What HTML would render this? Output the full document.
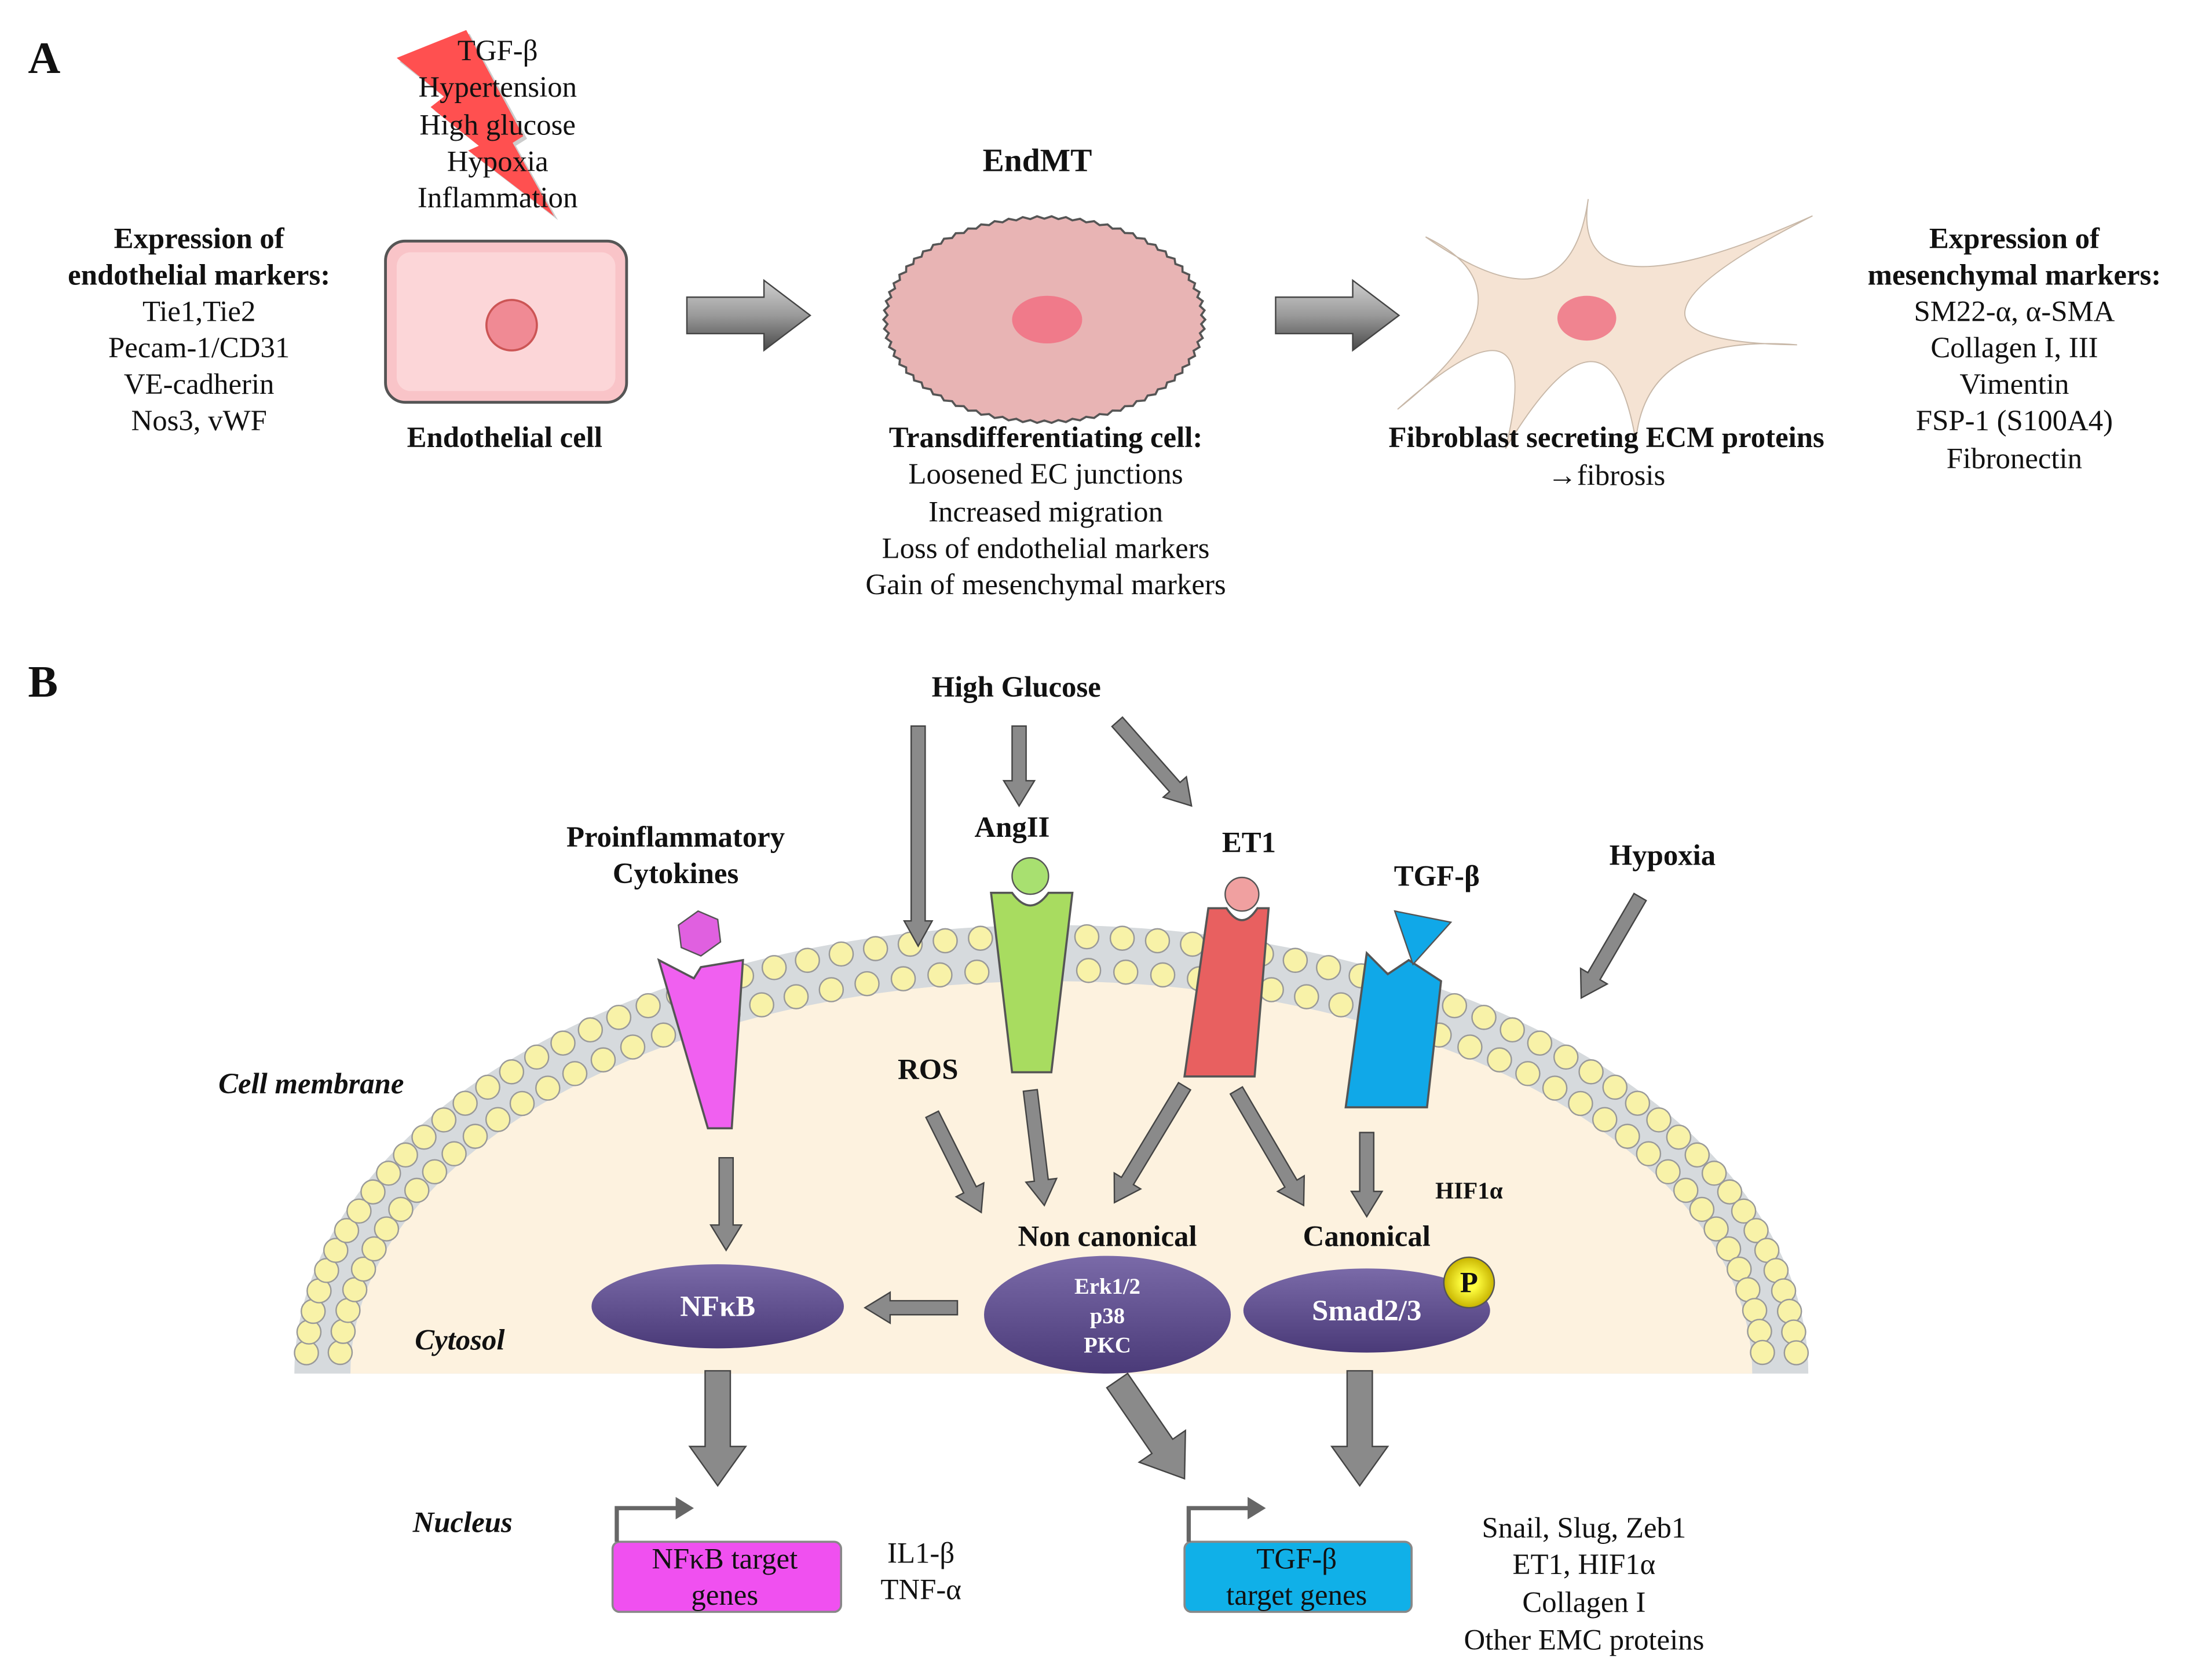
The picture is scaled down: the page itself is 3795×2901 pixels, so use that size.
<!DOCTYPE html>
<html><head><meta charset="utf-8"><style>
html,body{margin:0;padding:0;background:#fff}
svg{display:block}
text{font-family:"Liberation Serif",serif;fill:#111}
.b{font-weight:bold}
.t{font-size:21px;text-anchor:middle}
</style></head><body>
<svg id="s" width="3795" height="2901" viewBox="0 0 1568 1198.6" xmlns="http://www.w3.org/2000/svg">
<defs>
<linearGradient id="ga" x1="0" y1="0" x2="0" y2="1">
<stop offset="0" stop-color="#d0d0d0"/><stop offset="0.5" stop-color="#9a9a9a"/><stop offset="1" stop-color="#4a4a4a"/></linearGradient>
<linearGradient id="gp" x1="0" y1="0" x2="0" y2="1">
<stop offset="0" stop-color="#7a6aa8"/><stop offset="1" stop-color="#4a3a78"/></linearGradient>
<radialGradient id="gy"><stop offset="0.3" stop-color="#ffff40"/><stop offset="1" stop-color="#c8b400"/></radialGradient>
</defs>
<!-- Section A -->
<text x="20" y="52" class="b" style="font-size:32px">A</text>
<polygon points="335,24 376,99 368,104 398,157 337,110 344,106 310,79 319,71 285,44" fill="#aaa" opacity="0.6"/>
<polygon points="332.6,21.4 373.3,97.1 365.7,101.9 395.3,154.3 334,107.4 341.6,104 307.2,76.4 316.8,68.9 283,41.3" fill="#ff5050"/>
<text x="355" y="43" class="t">TGF-β</text><text x="355" y="69" class="t">Hypertension</text><text x="355" y="96" class="t">High glucose</text><text x="355" y="122" class="t">Hypoxia</text><text x="355" y="148" class="t">Inflammation</text>
<text x="142" y="177" class="t b">Expression of</text><text x="142" y="203" class="t b">endothelial markers:</text>
<text x="142" y="229" class="t">Tie1,Tie2</text><text x="142" y="255" class="t">Pecam-1/CD31</text><text x="142" y="281" class="t">VE-cadherin</text><text x="142" y="307" class="t">Nos3, vWF</text>
<rect x="275" y="172" width="172" height="115" rx="14" fill="#f9c4c8" stroke="#555" stroke-width="2"/>
<rect x="283" y="180" width="156" height="99" rx="10" fill="#fcd6d8"/>
<circle cx="365" cy="232" r="18" fill="#f08a94" stroke="#c55" stroke-width="1.5"/>
<text x="360" y="319" class="t b">Endothelial cell</text>
<g transform="translate(490,225)"><polygon points="0,-13 55,-13 55,-25 88,0 55,25 55,13 0,13" fill="url(#ga)" stroke="#444"/></g>
<text x="740" y="122" class="t b" style="font-size:23px">EndMT</text>
<path id="spiky" fill="#e8b4b4" stroke="#555" stroke-width="1.5"/>
<ellipse cx="747" cy="228" rx="25" ry="17" fill="#f07a8a"/>
<text x="746" y="319" class="t b">Transdifferentiating cell:</text>
<text x="746" y="345" class="t">Loosened EC junctions</text><text x="746" y="372" class="t">Increased migration</text><text x="746" y="398" class="t">Loss of endothelial markers</text><text x="746" y="424" class="t">Gain of mesenchymal markers</text>
<g transform="translate(910,225)"><polygon points="0,-13 55,-13 55,-25 88,0 55,25 55,13 0,13" fill="url(#ga)" stroke="#444"/></g>
<path id="fib" fill="#f5e3d3" stroke="#c8b8a8" stroke-width="0.8"/>
<ellipse cx="1132" cy="227" rx="21" ry="16" fill="#f08490"/>
<text x="1146" y="319" class="t b">Fibroblast secreting ECM proteins</text><text x="1146" y="346" class="t">→fibrosis</text>
<text x="1437" y="177" class="t b">Expression of</text><text x="1437" y="203" class="t b">mesenchymal markers:</text>
<text x="1437" y="229" class="t">SM22-α, α-SMA</text><text x="1437" y="255" class="t">Collagen I, III</text><text x="1437" y="281" class="t">Vimentin</text><text x="1437" y="307" class="t">FSP-1 (S100A4)</text><text x="1437" y="334" class="t">Fibronectin</text>
<!-- Section B -->
<text x="20" y="497" class="b" style="font-size:32px">B</text>
<text x="725" y="497" class="t b">High Glucose</text>
<path d="M210,980 A540,320 0 0 1 1290,980 Z" fill="#d6dadd"/>
<path d="M250,980 A500,280 0 0 1 1250,980 Z" fill="#fdf2df"/>
<g id="beads"></g>
<g id="arrows"></g>
<!-- receptors -->
<path d="M470,685 L495,698 L500,690 L530,685 L522,805 L505,805 Z" fill="#f060f0" stroke="#555" stroke-width="1.5"/>
<polygon points="498,650 512,656 514,672 500,682 486,676 484,660" fill="#e060e0" stroke="#555"/>
<path d="M707,637 L722,637 Q735,655 748,637 L765,637 L750,765 L722,765 Z" fill="#a8dc60" stroke="#555" stroke-width="1.5"/>
<circle cx="735" cy="625" r="13" fill="#a8e070" stroke="#555"/>
<path d="M862,648 L875,648 Q886,665 897,648 L905,648 L895,768 L845,768 Z" fill="#e86060" stroke="#555" stroke-width="1.5"/>
<circle cx="886" cy="638" r="12" fill="#f0a0a0" stroke="#555"/>
<path d="M975,680 L990,695 L1005,685 L1028,700 L1018,790 L960,790 Z" fill="#10a8e8" stroke="#555" stroke-width="1.5"/>
<polygon points="995,650 1035,658 1008,688" fill="#10a8e8" stroke="#555"/>
<text x="482" y="604" class="t b">Proinflammatory</text><text x="482" y="630" class="t b">Cytokines</text>
<text x="722" y="597" class="t b">AngII</text><text x="891" y="608" class="t b">ET1</text>
<text x="1025" y="632" class="t b">TGF-β</text><text x="1186" y="617" class="t b">Hypoxia</text>
<text x="662" y="770" class="t b">ROS</text>
<text x="222" y="780" class="t b" style="font-style:italic">Cell membrane</text>
<text x="328" y="963" class="t b" style="font-style:italic">Cytosol</text>
<text x="1048" y="855" class="t b" style="font-size:17px">HIF1α</text>
<text x="790" y="889" class="t b">Non canonical</text><text x="975" y="889" class="t b">Canonical</text>
<text x="330" y="1093" class="t b" style="font-style:italic">Nucleus</text>
<ellipse cx="512" cy="932" rx="90" ry="30" fill="url(#gp)"/>
<text x="512" y="939" class="t b" style="fill:#fff">NFκB</text>
<ellipse cx="790" cy="938" rx="88" ry="42" fill="url(#gp)"/>
<text x="790" y="923" class="t b" style="fill:#fff;font-size:16px">Erk1/2</text><text x="790" y="944" class="t b" style="fill:#fff;font-size:16px">p38</text><text x="790" y="965" class="t b" style="fill:#fff;font-size:16px">PKC</text>
<ellipse cx="975" cy="935" rx="88" ry="30" fill="url(#gp)"/>
<text x="975" y="942" class="t b" style="fill:#fff">Smad2/3</text>
<circle cx="1048" cy="915" r="18" fill="url(#gy)" stroke="#555"/>
<text x="1048" y="922" class="t b">P</text>
<rect x="437" y="1100" width="163" height="50" rx="5" fill="#f050f0" stroke="#888" stroke-width="1.5"/>
<text x="517" y="1119" class="t">NFκB target</text><text x="517" y="1145" class="t">genes</text>
<rect x="845" y="1100" width="162" height="50" rx="5" fill="#10b0e8" stroke="#888" stroke-width="1.5"/>
<text x="925" y="1119" class="t">TGF-β</text><text x="925" y="1145" class="t">target genes</text>
<path d="M440,1100 V1076 H485" fill="none" stroke="#666" stroke-width="3"/><polygon points="482,1068 495,1076 482,1084" fill="#666"/>
<path d="M848,1100 V1076 H893" fill="none" stroke="#666" stroke-width="3"/><polygon points="890,1068 903,1076 890,1084" fill="#666"/>
<text x="657" y="1115" class="t">IL1-β</text><text x="657" y="1141" class="t">TNF-α</text>
<text x="1130" y="1097" class="t">Snail, Slug, Zeb1</text><text x="1130" y="1123" class="t">ET1, HIF1α</text><text x="1130" y="1150" class="t">Collagen I</text><text x="1130" y="1177" class="t">Other EMC proteins</text>
</svg>
<script>
var NS="http://www.w3.org/2000/svg";
var d="",cx=745,cy=228,rx=112,ry=72,n=70;
for(var i=0;i<=n*2;i++){var a=i/(n*2)*2*Math.PI,r=(i%2?1:1.025);d+=(i?"L":"M")+(cx+rx*r*Math.cos(a)).toFixed(1)+","+(cy+ry*r*Math.sin(a)).toFixed(1);}
document.getElementById("spiky").setAttribute("d",d+"Z");
// fibroblast
var sp=[[1133,142],[1293,154],[1282,246],[1167,315],[1074,320],[997,292],[1017,169]];
var vl=[[1166,190],[1202,222],[1199,259],[1134,258],[1070,251],[1054,220],[1097,198]];
var fd="M"+sp[0];
for(var i=0;i<sp.length;i++){var s0=sp[i],s1=sp[(i+1)%sp.length],v=vl[i];
var c=[2*v[0]-(s0[0]+s1[0])/2,2*v[1]-(s0[1]+s1[1])/2];fd+=" Q"+c+" "+s1;}
document.getElementById("fib").setAttribute("d",fd+"Z");
var g=document.getElementById("beads");
function row(rx,ry,cnt){for(var i=0;i<=cnt;i++){var a=Math.PI+i/cnt*Math.PI;var x=750+rx*Math.cos(a),y=980+ry*Math.sin(a);if(y>972)continue;
var c=document.createElementNS(NS,"circle");c.setAttribute("cx",x);c.setAttribute("cy",y);c.setAttribute("r",8.5);c.setAttribute("fill","#f8f2a8");c.setAttribute("stroke","#999");c.setAttribute("stroke-width","1");g.appendChild(c);}}
row(532,312,66);row(508,288,60);
var ag=document.getElementById("arrows");
function arr(x1,y1,x2,y2,s,H,K){var L=Math.hypot(x2-x1,y2-y1),ang=Math.atan2(y2-y1,x2-x1)*180/Math.PI;
var p=document.createElementNS(NS,"polygon");p.setAttribute("points","0,"+(-s)+" "+(L-K)+","+(-s)+" "+(L-K)+","+(-H)+" "+L+",0 "+(L-K)+","+H+" "+(L-K)+","+s+" 0,"+s);
p.setAttribute("transform","translate("+x1+","+y1+") rotate("+ang+")");p.setAttribute("fill","#8a8a8a");p.setAttribute("stroke","#444");p.setAttribute("stroke-width","1");ag.appendChild(p);}
arr(655,518,655,675,5,10,18);arr(727,518,727,575,5,11,18);arr(797,515,850,575,5,11,18);arr(1170,640,1128,712,5,11,18);
arr(518,826,518,892,5,11,18);arr(665,795,700,865,5,11,18);arr(735,778,745,860,5,11,18);arr(845,775,795,858,5,11,18);
arr(882,778,930,860,5,11,18);arr(975,808,975,868,5,11,18);arr(683,933,617,933,5,11,18);
arr(512,978,512,1060,9,20,28);arr(797,985,845,1055,9,20,28);arr(970,978,970,1060,9,20,28);
</script>
</body></html>
